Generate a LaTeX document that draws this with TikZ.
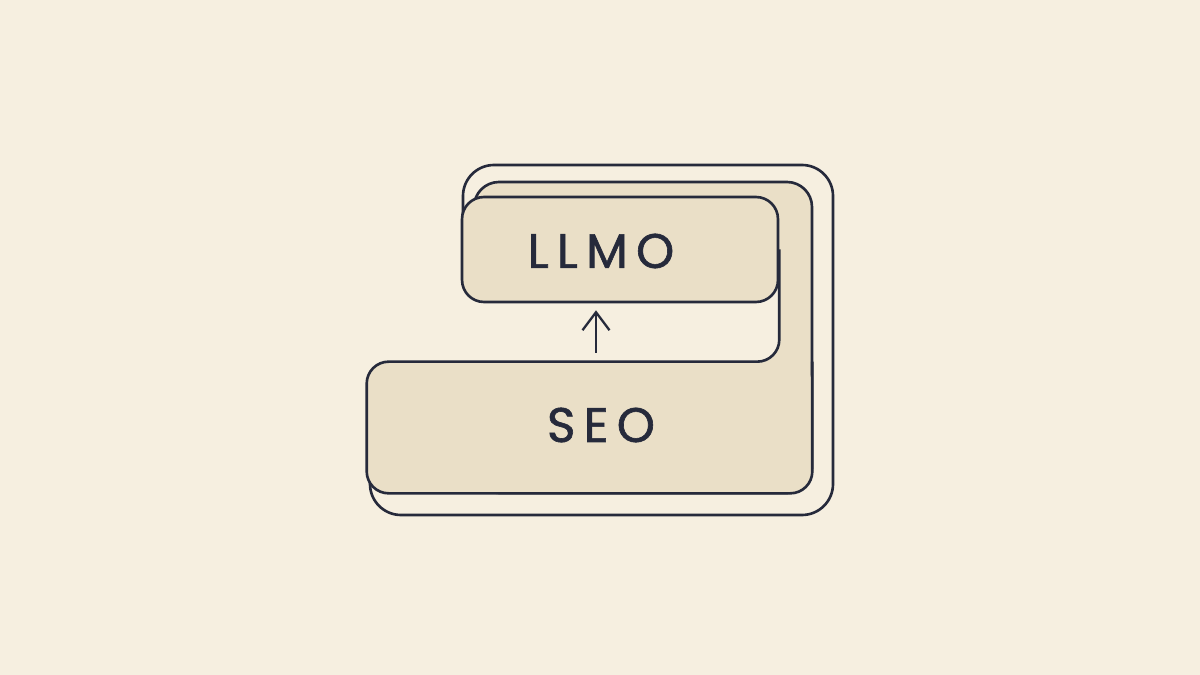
\documentclass[tikz,border=0pt]{standalone}
\usepackage{fontspec}
\newfontfamily\tagfont[LetterSpace=17, FakeBold=1.3]{Poppins}
\usetikzlibrary{arrows.meta, positioning}
\definecolor{paper}{HTML}{F6EFE0}
\definecolor{sand}{HTML}{EADFC7}
\definecolor{ink}{HTML}{262A3B}

\begin{document}
\begin{tikzpicture}[
	x=0.02cm, y=-0.02cm,
	block/.style={rectangle, fill=sand, rounded corners=0.44cm, inner sep=0pt},
	edge/.style={draw=ink, line width=1.5pt, line join=round},
	tag/.style={text=ink, font=\tagfont\fontsize{27.6}{30}\selectfont, inner sep=0pt},
	line/.style={draw=ink, line width=1.3pt, -{Straight Barb[length=0.36cm, width=0.54cm]}},
	]
	\fill [paper] (0,0) rectangle (1200,675);
	
	\draw [edge, fill=paper, rounded corners=0.62cm] (463,260) -- (463,165) -- (833,165) -- (833,515) -- (370,515) -- (370,400) -- (520,400) -- (520,260) -- cycle;
	\draw [edge, fill=sand, rounded corners=0.5cm] (474,182) rectangle (812,493);
	\fill [paper, rounded corners=0.44cm] (440,250) rectangle (778,362);
	
	\node [block, edge, minimum width=6.32cm, minimum height=2.1cm] (llmo) at (620,249.5) {};
	\node [block, minimum width=8.9cm, minimum height=2.62cm] (seo) at (589.5,427.5) {};
	\draw [edge, rounded corners=0.44cm] (llmo.east) -- (llmo.east |- seo.north) -- (seo.north west) -- (seo.south west) -- (seo.south east) -- (seo.north east);
	
	\node [tag] (llmo text) at (601,251) {LLMO};
	\node [tag] (seo text) at (601,425) {SEO};
	
	\coordinate (foot) at (596,353);
	\path [line, shorten >=0.14cm] (foot) -- (foot |- llmo.south);
\end{tikzpicture}
\end{document}
